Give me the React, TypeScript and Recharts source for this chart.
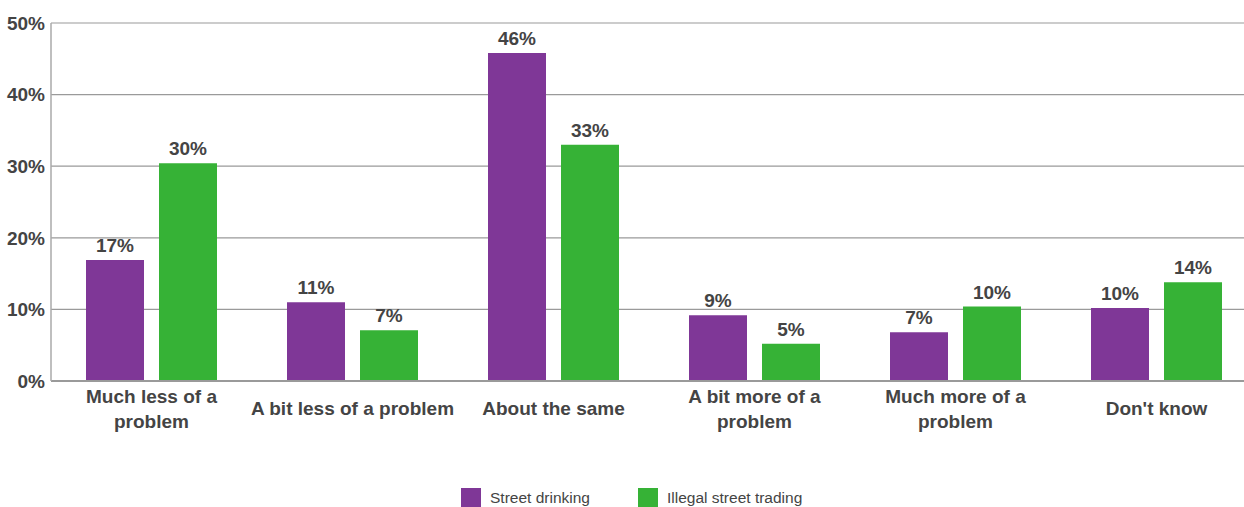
import React from "react";
import {
  BarChart,
  Bar,
  XAxis,
  YAxis,
  CartesianGrid,
  LabelList,
} from "recharts";

const CATEGORIES = [
  "Much less of a\nproblem",
  "A bit less of a problem",
  "About the same",
  "A bit more of a\nproblem",
  "Much more of a\nproblem",
  "Don't know",
];
const STREET_DRINKING = [16.9, 11.0, 45.8, 9.2, 6.8, 10.2];
const ILLEGAL_TRADING = [30.4, 7.1, 33.0, 5.2, 10.4, 13.8];
const Y_TICKS = [0, 10, 20, 30, 40, 50];

const PURPLE = "#7f3797";
const GREEN = "#36b236";
const TEXT = "#444444";
const FONT = "'Liberation Sans', Arial, sans-serif";

const data = CATEGORIES.map((name, i) => ({
  name,
  drinking: STREET_DRINKING[i],
  trading: ILLEGAL_TRADING[i],
}));

function CategoryTick(props: { x?: number; y?: number; payload?: { value: string } }) {
  const { x = 0, y = 0, payload } = props;
  const lines = (payload?.value ?? "").split("\n");
  const startY = lines.length > 1 ? y + 14 : y + 26;
  return (
    <text
      x={x}
      y={startY}
      textAnchor="middle"
      fill={TEXT}
      fontSize={19}
      fontWeight="bold"
      fontFamily={FONT}
    >
      {lines.map((l, i) => (
        <tspan key={i} x={x} dy={i === 0 ? 0 : 25}>
          {l}
        </tspan>
      ))}
    </text>
  );
}

function LegendBox() {
  const items = [
    { label: "Street drinking", color: PURPLE, left: 461 },
    { label: "Illegal street trading", color: GREEN, left: 638 },
  ];
  return (
    <>
      {items.map((it) => (
        <div
          key={it.label}
          style={{
            position: "absolute",
            left: it.left,
            top: 488,
            display: "flex",
            alignItems: "center",
            fontFamily: FONT,
          }}
        >
          <span style={{ width: 20, height: 20, background: it.color, marginRight: 9 }} />
          <span style={{ fontSize: 15.5, color: TEXT }}>{it.label}</span>
        </div>
      ))}
    </>
  );
}

export default function App() {
  return (
    <div style={{ position: "absolute", left: 0, top: 0, width: 1244, height: 507, overflow: "hidden", background: "#fff" }}>
      <BarChart
        width={1244}
        height={507}
        data={data}
        margin={{ top: 23, right: -13, left: 0, bottom: 96 }}
        barSize={58}
        barGap={15}
      >
        <CartesianGrid vertical={false} stroke="#9a9a9a" strokeWidth={1.2} />
        <XAxis
          dataKey="name"
          height={30}
          interval={0}
          tick={<CategoryTick />}
          tickLine={false}
          axisLine={{ stroke: "#9a9a9a", strokeWidth: 2 }}
        />
        <YAxis
          width={51}
          domain={[0, 50]}
          ticks={Y_TICKS}
          tickFormatter={(v) => `${v}%`}
          tick={{ fontSize: 19, fontWeight: "bold", fill: TEXT, fontFamily: FONT }}
          tickLine={false}
          tickMargin={0}
          axisLine={{ stroke: "#aaaaaa", strokeWidth: 1.5 }}
        />
        <Bar dataKey="drinking" name="Street drinking" fill={PURPLE} isAnimationActive={false}>
          <LabelList
            dataKey="drinking"
            position="top"
            offset={8}
            formatter={(v: number) => `${Math.round(v)}%`}
            style={{ fontSize: 19, fontWeight: "bold", fill: TEXT, fontFamily: FONT }}
          />
        </Bar>
        <Bar dataKey="trading" name="Illegal street trading" fill={GREEN} isAnimationActive={false}>
          <LabelList
            dataKey="trading"
            position="top"
            offset={8}
            formatter={(v: number) => `${Math.round(v)}%`}
            style={{ fontSize: 19, fontWeight: "bold", fill: TEXT, fontFamily: FONT }}
          />
        </Bar>
      </BarChart>
      <LegendBox />
    </div>
  );
}
